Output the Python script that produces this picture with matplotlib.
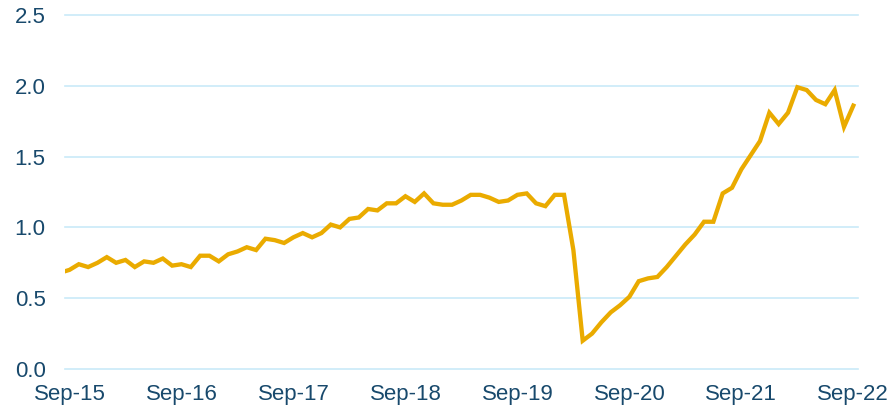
import matplotlib
matplotlib.use("Agg")
import matplotlib.pyplot as plt
import pandas as pd

# Monthly series, Aug-15 (clipped at left edge) through Sep-22
start_month = "2015-08"
values = [
    0.68,                                                                 # Aug-15
    0.70, 0.74, 0.72, 0.75, 0.79, 0.75, 0.77, 0.72, 0.76, 0.75, 0.78, 0.73,  # Sep-15..Aug-16
    0.74, 0.72, 0.80, 0.80, 0.76, 0.81, 0.83, 0.86, 0.84, 0.92, 0.91, 0.89,  # Sep-16..Aug-17
    0.93, 0.96, 0.93, 0.96, 1.02, 1.00, 1.06, 1.07, 1.13, 1.12, 1.17, 1.17,  # Sep-17..Aug-18
    1.22, 1.18, 1.24, 1.17, 1.16, 1.16, 1.19, 1.23, 1.23, 1.21, 1.18, 1.19,  # Sep-18..Aug-19
    1.23, 1.24, 1.17, 1.15, 1.23, 1.23, 0.84, 0.20, 0.25, 0.33, 0.40, 0.45,  # Sep-19..Aug-20
    0.51, 0.62, 0.64, 0.65, 0.72, 0.80, 0.88, 0.95, 1.04, 1.04, 1.24, 1.28,  # Sep-20..Aug-21
    1.41, 1.51, 1.61, 1.81, 1.73, 1.81, 1.99, 1.97, 1.90, 1.87, 1.97, 1.71,  # Sep-21..Aug-22
    1.86,                                                                 # Sep-22
]
tick_labels = ["Sep-15", "Sep-16", "Sep-17", "Sep-18", "Sep-19", "Sep-20", "Sep-21", "Sep-22"]
y_ticks = [0.0, 0.5, 1.0, 1.5, 2.0, 2.5]

dates = pd.period_range(start=start_month, periods=len(values), freq="M")
first_tick = pd.Period("2015-09", freq="M")
x = [(d - first_tick).n for d in dates]
tick_pos = [12 * k for k in range(len(tick_labels))]

line_color = "#EAAB00"
grid_color = "#C9EAF8"
text_color = "#18496C"

plt.rcParams["font.family"] = ["Liberation Sans", "DejaVu Sans"]

fig = plt.figure(figsize=(8.92, 4.12), dpi=100)
ax = fig.add_axes([65 / 892, 43 / 412, (858 - 65) / 892, (369 - 15) / 412])

ax.plot(x, values, color=line_color, linewidth=3.1, solid_joinstyle="miter", zorder=3)

ax.set_xlim(-0.48, 84.5)
ax.set_ylim(0, 2.5)
ax.set_yticks(y_ticks)
ax.set_yticklabels([f"{v:.1f}" for v in y_ticks])
ax.set_xticks(tick_pos)
ax.set_xticklabels(tick_labels)

ax.grid(axis="y", color=grid_color, linewidth=1.2, zorder=1)
ax.grid(axis="x", visible=False)
for s in ax.spines.values():
    s.set_visible(False)
ax.tick_params(axis="both", length=0, labelsize=16, colors=text_color)
ax.tick_params(axis="y", pad=14)
ax.tick_params(axis="x", pad=11)
for gl in ax.get_ygridlines():
    gl.set_clip_on(False)

fig.savefig("out.png", dpi=100)
